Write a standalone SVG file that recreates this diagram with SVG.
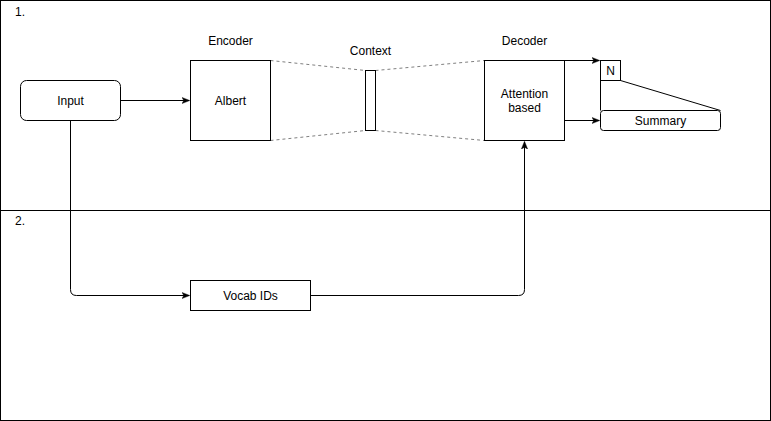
<svg xmlns="http://www.w3.org/2000/svg" width="771" height="421" viewBox="0 0 771 421">
<style>
  text { font-family: "Liberation Sans", Arial, sans-serif; font-size: 12px; fill: #000; }
  .c { text-anchor: middle; }
  .box { fill: #fff; stroke: #000; stroke-width: 1; }
  .ln { fill: none; stroke: #000; stroke-width: 1; }
  .dash { fill: none; stroke: #808080; stroke-width: 1; stroke-dasharray: 3 3; }
</style>
<defs>
  <marker id="arr" viewBox="0 0 10 10" refX="9" refY="5" markerWidth="8" markerHeight="8" markerUnits="userSpaceOnUse" orient="auto">
    <path d="M0,1 L10,5 L0,9 L2.5,5 Z" fill="#000" stroke="#000" stroke-width="0.5"/>
  </marker>
</defs>
<rect width="771" height="421" fill="#fff"/>
<g id="panel1">
  <rect x="0.5" y="0.5" width="770" height="210" class="ln"/>
  <text x="15" y="16">1.</text>
</g>
<g id="panel2">
  <rect x="0.5" y="210.5" width="770" height="210" class="ln"/>
  <text x="15" y="225">2.</text>
</g>
<g id="connectors">
  <path d="M120.5,100.5 H189" class="ln" marker-end="url(#arr)"/>
  <path d="M270.5,60.5 L365.5,70.5" class="dash"/>
  <path d="M270.5,140.5 L365.5,130.5" class="dash"/>
  <path d="M375.5,70.5 L484.5,60.5" class="dash"/>
  <path d="M375.5,130.5 L484.5,140.5" class="dash"/>
  <path d="M564.5,60.5 H599" class="ln" marker-end="url(#arr)"/>
  <path d="M564.5,120.5 H599" class="ln" marker-end="url(#arr)"/>
  <path d="M600.5,80.5 V110.5" class="ln"/>
  <path d="M620.5,80.5 L720.5,110.5" class="ln"/>
  <path d="M70.5,120.5 V289.5 Q70.5,295.5 76.5,295.5 H189" class="ln" marker-end="url(#arr)"/>
  <path d="M310.5,295.5 H518.5 Q524.5,295.5 524.5,289.5 V142" class="ln" marker-end="url(#arr)"/>
</g>
<g id="input">
  <rect x="20.5" y="80.5" width="100" height="40" rx="6" class="box"/>
  <text x="70.5" y="105" class="c">Input</text>
</g>
<g id="encoder">
  <text x="230.5" y="45" class="c">Encoder</text>
  <rect x="190.5" y="60.5" width="80" height="80" class="box"/>
  <text x="230.5" y="105" class="c">Albert</text>
</g>
<g id="context">
  <text x="370.5" y="55" class="c">Context</text>
  <rect x="365.5" y="70.5" width="10" height="60" class="box"/>
</g>
<g id="decoder">
  <text x="524.5" y="45" class="c">Decoder</text>
  <rect x="484.5" y="60.5" width="80" height="80" class="box"/>
  <text x="524.5" y="98" class="c">Attention</text>
  <text x="524.5" y="112" class="c">based</text>
</g>
<g id="n">
  <rect x="600.5" y="60.5" width="20" height="20" class="box"/>
  <text x="610.5" y="75" class="c">N</text>
</g>
<g id="summary">
  <rect x="600.5" y="110.5" width="120" height="20" rx="3" class="box"/>
  <text x="660.5" y="125" class="c">Summary</text>
</g>
<g id="vocab">
  <rect x="190.5" y="280.5" width="120" height="30" class="box"/>
  <text x="250.5" y="300" class="c">Vocab IDs</text>
</g>
</svg>
